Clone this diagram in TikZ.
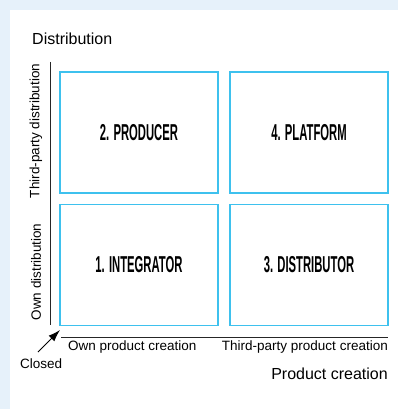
\documentclass[tikz,border=0pt]{standalone}
\usepackage{fontspec}
\setmainfont{Liberation Sans}
\usetikzlibrary{arrows.meta}
\definecolor{bgblue}{HTML}{E6F1FA}
\definecolor{boxcyan}{HTML}{3EC1EE}
\begin{document}
\begin{tikzpicture}[x=1pt,y=-1pt,
  quad/.style={draw=boxcyan,line width=1.5pt,fill=white,minimum width=158pt,minimum height=121pt,inner sep=0pt},
  qlabel/.style={font=\fontsize{23}{23}\selectfont\bfseries},
  axis/.style={draw=black!85,line width=0.9pt},
  small/.style={font=\fontsize{13.5}{14}\selectfont,inner sep=0pt},
  big/.style={font=\fontsize{16}{17}\selectfont,inner sep=0pt}]
\useasboundingbox (0,0) rectangle (398,409);
\fill[bgblue] (0,0) rectangle (398,409);
\fill[white] (10,10) rectangle (398,409);
\node[quad] (producer) at (139,132.5) {};
\node[quad] (platform) at (309,132.5) {};
\node[quad] (integrator) at (139,265) {};
\node[quad] (distributor) at (309,265) {};
\node[qlabel] (lp) at (producer.center) {\scalebox{0.49}[1]{2. PRODUCER}};
\node[qlabel] (lf) at (platform.center) {\scalebox{0.49}[1]{4. PLATFORM}};
\node[qlabel] (li) at (integrator.center) {\scalebox{0.49}[1]{1. INTEGRATOR}};
\node[qlabel] (ld) at (distributor.center) {\scalebox{0.49}[1]{3. DISTRIBUTOR}};
\coordinate (vtop) at (50,62);
\coordinate (vbot) at (50,325);
\coordinate (hleft) at (61,337);
\coordinate (hright) at (388,337);
\draw[axis] (vtop) -- (vbot);
\draw[axis] (hleft) -- (hright);
\node[big,anchor=west] (dist) at (32,39) {Distribution};
\node[big,anchor=east] (prod) at (388,374) {Product creation};
\node[small,rotate=90] (tpd) at (36,131) {Third-party distribution};
\node[small,rotate=90] (own) at (36,272) {Own distribution};
\node[small,anchor=west] (opc) at (68,347) {Own product creation};
\node[small,anchor=east] (tpc) at (388,347) {Third-party product creation};
\node[small,anchor=west] (closed) at (20,364) {Closed};
\coordinate (tail) at (38,352);
\coordinate (tip) at (60,330);
\draw[line width=0.9pt,-{Latex[length=12pt,width=8pt]}] (tail) -- (tip);
\end{tikzpicture}
\end{document}
